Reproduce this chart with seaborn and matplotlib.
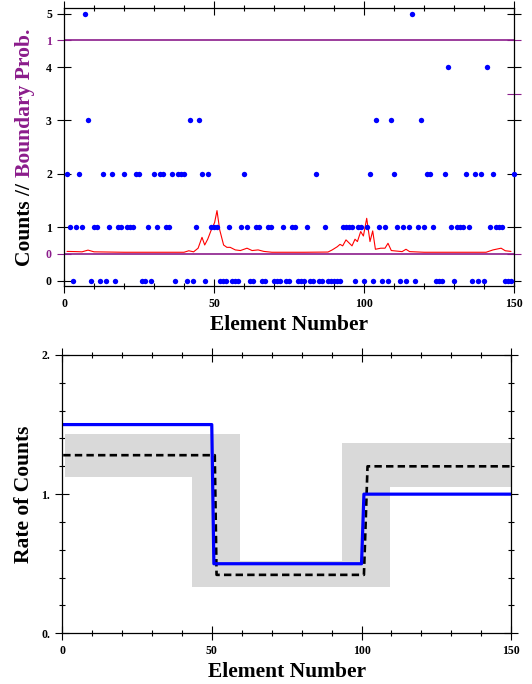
import matplotlib
matplotlib.use("Agg")
import matplotlib.pyplot as plt
from matplotlib.ticker import FixedLocator, MultipleLocator
import pandas as pd
import seaborn as sns

# counts per element (1..150)
counts = [
    2, 1, 0, 1, 2, 1, 5, 3, 0, 1,
    1, 0, 2, 0, 1, 2, 0, 1, 1, 2,
    1, 1, 1, 2, 2, 0, 0, 1, 0, 2,
    1, 2, 2, 1, 1, 2, 0, 2, 2, 2,
    0, 3, 0, 1, 3, 2, 0, 2, 1, 1,
    1, 0, 0, 0, 1, 0, 0, 0, 1, 2,
    1, 0, 0, 1, 1, 0, 0, 1, 1, 0,
    0, 0, 1, 0, 0, 1, 1, 0, 0, 0,
    1, 0, 0, 2, 0, 0, 1, 0, 0, 0,
    0, 0, 1, 1, 1, 1, 0, 1, 1, 0,
    1, 2, 0, 3, 1, 0, 1, 0, 3, 2,
    1, 0, 1, 0, 1, 5, 0, 1, 3, 1,
    2, 2, 1, 0, 0, 0, 2, 4, 1, 0,
    1, 1, 1, 2, 1, 0, 2, 0, 2, 0,
    4, 1, 2, 1, 1, 1, 0, 0, 0, 2,
]
elements = list(range(1, len(counts) + 1))

# boundary probability (red curve)
prob_x = [1, 4, 6, 8, 10, 20, 30, 40, 41.6, 43.2, 44.7, 46, 46.9, 47.9, 49.1,
          50.2, 51, 51.9, 53.2, 54.3, 55.4, 57.1, 58.8, 61, 62.7, 64.7, 66.6,
          69.3, 80, 88, 89.4, 91.1, 92, 92.9, 94, 96, 97, 97.8, 98.9, 99.8,
          100.9, 102, 102.9, 103.8, 105.6, 107, 108, 109.1, 112.7, 114, 115.2,
          120, 130, 140.7, 143, 145.7, 147.1, 149]
prob_y = [0.012, 0.011, 0.010, 0.018, 0.010, 0.008, 0.008, 0.008, 0.015, 0.010,
          0.027, 0.078, 0.042, 0.069, 0.113, 0.147, 0.203, 0.113, 0.042, 0.031,
          0.031, 0.019, 0.016, 0.027, 0.016, 0.019, 0.012, 0.008, 0.008, 0.009,
          0.019, 0.034, 0.045, 0.038, 0.066, 0.038, 0.069, 0.058, 0.105, 0.084,
          0.167, 0.058, 0.108, 0.022, 0.027, 0.027, 0.050, 0.016, 0.011, 0.022,
          0.011, 0.008, 0.008, 0.008, 0.019, 0.027, 0.015, 0.012]

# rate of counts: true blocks (blue), estimated blocks (dashed), band (grey)
true_x = [0.4, 50, 50.7, 100, 100.8, 150]
true_rate = [1.5, 1.5, 0.5, 0.5, 1.0, 1.0]
est_x = [0.4, 51, 51.6, 100.8, 102, 150]
est_rate = [1.28, 1.28, 0.42, 0.42, 1.2, 1.2]
band_x = [1, 43.5, 59.5, 93.5, 109.5, 150]
band_lo = [1.12, 0.33, 0.33, 0.33, 1.05, 1.05]
band_hi = [1.43, 1.43, 0.52, 1.37, 1.37, 1.37]

purple = "#8b1c8b"
tick_kw = dict(direction="inout", width=0.8, labelsize=8.5, color="black",
               labelcolor="black")

sns.set_style("ticks")
plt.rcParams["font.family"] = ["Liberation Serif", "DejaVu Serif"]
plt.rcParams["font.weight"] = "bold"
plt.rcParams["text.color"] = "black"
plt.rcParams["axes.labelcolor"] = "black"
plt.rcParams["xtick.color"] = "black"
plt.rcParams["ytick.color"] = "black"

fig = plt.figure(figsize=(5.32, 6.84), dpi=100)
W, H = 532, 684

# ---- top panel
ax1 = fig.add_axes([64 / W, 1 - 286 / H, 450 / W, 278 / H])
ax2 = ax1.twinx()
ax1.set_zorder(2)
ax1.patch.set_visible(False)
ax2.set_zorder(1)

ylo, yhi = -0.1, 5.107
ax1.set_xlim(0, 150)
ax1.set_ylim(ylo, yhi)
ax2.set_ylim((ylo - 0.5) / 4, (yhi - 0.5) / 4)

df_counts = pd.DataFrame({"element": elements, "count": counts})
sns.scatterplot(data=df_counts, x="element", y="count", color="#0000ff", s=15,
                linewidth=0, ax=ax1, clip_on=False, zorder=3)

ax2.axhline(0, color=purple, lw=1.2)
ax2.axhline(1, color=purple, lw=1.2)
sns.lineplot(x=prob_x, y=prob_y, ax=ax2, color="#ff0000", lw=0.8,
             sort=False, estimator=None)

ax1.xaxis.set_major_locator(FixedLocator([0, 50, 100, 150]))
ax1.xaxis.set_minor_locator(MultipleLocator(10))
ax1.yaxis.set_major_locator(FixedLocator([0, 1, 2, 3, 4, 5]))
ax1.tick_params(which="both", top=True, bottom=True, left=True, right=True,
                labelleft=True, labelright=False, **tick_kw)
ax1.tick_params(which="major", length=9.4, pad=4)
ax1.tick_params(which="minor", length=5)
ax1.tick_params(axis="y", which="minor", left=False, right=False)
ax1.set_ylabel("")

ax2.yaxis.set_ticks_position("both")
ax2.yaxis.set_major_locator(FixedLocator([0, 1]))
ax2.set_yticklabels(["0", "1"])
ax2.yaxis.set_minor_locator(FixedLocator([0.75]))
ax2.tick_params(axis="y", which="major", direction="inout", length=9.4, width=0.8,
                colors=purple, labelleft=True, labelright=False, labelsize=8.5, pad=4)
ax2.tick_params(axis="y", which="minor", direction="inout", length=9.4, width=0.8,
                color=purple, left=False, right=True)
ax2.set_ylabel("")
for sp in ax2.spines.values():
    sp.set_visible(False)

ax1.set_xlabel("Element Number", fontsize=15.5, fontweight="bold", color="black")
ax1.xaxis.set_label_coords(0.5, -29 / 278)

# two-colour y label
t1 = fig.text(25 / W, 0, "Counts //", rotation=90, ha="center", va="bottom",
              fontsize=15.5, fontweight="bold", color="black")
t2 = fig.text(25 / W, 0, "Boundary Prob.", rotation=90, ha="center", va="bottom",
              fontsize=15.5, fontweight="bold", color=purple)
fig.canvas.draw()
h1 = t1.get_window_extent().height
h2 = t2.get_window_extent().height
gap = 6
start = (H - 147) - (h1 + gap + h2) / 2
t1.set_y(start / H)
t2.set_y((start + h1 + gap) / H)

# ---- bottom panel
ax3 = fig.add_axes([62 / W, 1 - 633.3 / H, 449.3 / W, 278.3 / H])
ax3.fill_between(band_x, band_lo, band_hi, step="post", color="#d9d9d9", lw=0)
sns.lineplot(x=est_x, y=est_rate, ax=ax3, color="black", lw=1.9,
             linestyle=(0, (2.8, 1.6)), sort=False, estimator=None)
sns.lineplot(x=true_x, y=true_rate, ax=ax3, color="#0000ff", lw=2.3,
             sort=False, estimator=None)
ax3.set_xlim(0, 150)
ax3.set_ylim(0, 2)
ax3.xaxis.set_major_locator(FixedLocator([0, 50, 100, 150]))
ax3.xaxis.set_minor_locator(MultipleLocator(10))
ax3.yaxis.set_major_locator(FixedLocator([0, 1, 2]))
ax3.yaxis.set_minor_locator(MultipleLocator(0.2))
ax3.set_yticklabels(["0.", "1.", "2."])
ax3.tick_params(which="both", top=True, bottom=True, left=True, right=True, **tick_kw)
ax3.tick_params(which="major", length=9.4, pad=4)
ax3.tick_params(which="minor", length=4.5)
ax3.set_xlabel("Element Number", fontsize=15.5, fontweight="bold", color="black")
ax3.xaxis.set_label_coords(0.5, -28.4 / 278.3)
ax3.set_ylabel("Rate of Counts", fontsize=15.5, fontweight="bold", va="center",
               color="black")
ax3.yaxis.set_label_coords((24 - 62) / 449.3, 0.5)

for ax in (ax1, ax3):
    for sp in ax.spines.values():
        sp.set_linewidth(0.9)
        sp.set_color("black")

fig.savefig("out.png", dpi=100)
